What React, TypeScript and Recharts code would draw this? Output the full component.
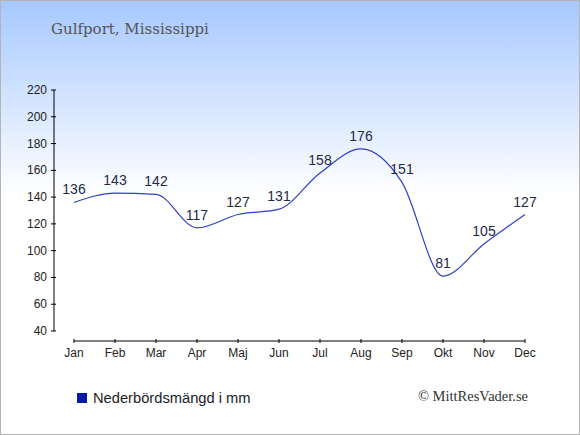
import { LabelList, Line, LineChart, XAxis, YAxis } from "recharts";

const months = ["Jan", "Feb", "Mar", "Apr", "Maj", "Jun", "Jul", "Aug", "Sep", "Okt", "Nov", "Dec"];
const rainfall = [136, 143, 142, 117, 127, 131, 158, 176, 151, 81, 105, 127];
const yTicks = [40, 60, 80, 100, 120, 140, 160, 180, 200, 220];

const data = months.map((month, i) => ({ month, value: rainfall[i] }));

const sans = "'Liberation Sans', Arial, sans-serif";
const serif = "'Liberation Serif', 'Times New Roman', serif";

function YTick(props: any) {
  const { x, y, payload } = props;
  return (
    <g>
      <line x1={x - 3} x2={x + 2} y1={y} y2={y} stroke="#000" />
      <text x={x - 7} y={y + 4} textAnchor="end" fontSize={12} fontFamily={sans} fill="#222">
        {payload.value}
      </text>
    </g>
  );
}

function XTick(props: any) {
  const { x, y, payload } = props;
  return (
    <g>
      <line x1={x} x2={x} y1={y - 2} y2={y + 2} stroke="#000" />
      <text x={x} y={y + 16} textAnchor="middle" fontSize={12} fontFamily={sans} fill="#222">
        {payload.value}
      </text>
    </g>
  );
}

export default function App() {
  return (
    <div
      style={{
        position: "absolute",
        left: 0,
        top: 0,
        width: 580,
        height: 435,
        background: "linear-gradient(to bottom, #a6c8ff 0px, #ffffff 195px)",
      }}
    >
      <div
        style={{
          position: "absolute",
          left: 51,
          top: 20,
          fontFamily: "'DejaVu Serif', serif",
          fontSize: 15,
          color: "#555",
          whiteSpace: "nowrap",
        }}
      >
        Gulfport, Mississippi
      </div>
      <div style={{ position: "absolute", left: 0, top: 0 }}>
        <LineChart width={580} height={435} data={data} margin={{ top: 90, right: 55, bottom: 0, left: 0 }}>
          <XAxis xAxisId="gap" dataKey="month" height={10} tick={false} axisLine={false} tickLine={false} />
          <XAxis
            xAxisId="v"
            dataKey="month"
            scale="point"
            height={94}
            interval={0}
            tickSize={0}
            tickMargin={0}
            tickLine={false}
            axisLine={{ stroke: "#000" }}
            tick={<XTick />}
          />
          <YAxis yAxisId="gap" type="number" domain={[0, 1]} width={20} tick={false} axisLine={false} tickLine={false} />
          <YAxis
            yAxisId="v"
            type="number"
            domain={[40, 220]}
            ticks={yTicks}
            interval={0}
            width={54}
            tickSize={0}
            tickMargin={0}
            tickLine={false}
            axisLine={{ stroke: "#000" }}
            tick={<YTick />}
          />
          <Line
            xAxisId="v"
            yAxisId="v"
            type="monotone"
            dataKey="value"
            stroke="#3040c8"
            strokeWidth={1.2}
            dot={false}
            activeDot={false}
            isAnimationActive={false}
          >
            <LabelList dataKey="value" position="top" offset={8} fill="#1c2a4a" fontSize={14} fontFamily={sans} />
          </Line>
        </LineChart>
      </div>
      <div
        style={{
          position: "absolute",
          left: 77,
          top: 390,
          display: "flex",
          alignItems: "center",
          fontFamily: sans,
          fontSize: 14.7,
          color: "#222",
          whiteSpace: "nowrap",
        }}
      >
        <span style={{ display: "inline-block", width: 10, height: 10, background: "#0a1aa8", marginRight: 6 }} />
        Nederbördsmängd i mm
      </div>
      <div
        style={{
          position: "absolute",
          right: 52,
          top: 388,
          fontFamily: serif,
          fontSize: 14.5,
          color: "#333",
          whiteSpace: "nowrap",
        }}
      >
        © MittResVader.se
      </div>
      <div
        style={{
          position: "absolute",
          inset: 0,
          border: "1px solid #b4b4b4",
          boxSizing: "border-box",
          pointerEvents: "none",
        }}
      />
    </div>
  );
}
